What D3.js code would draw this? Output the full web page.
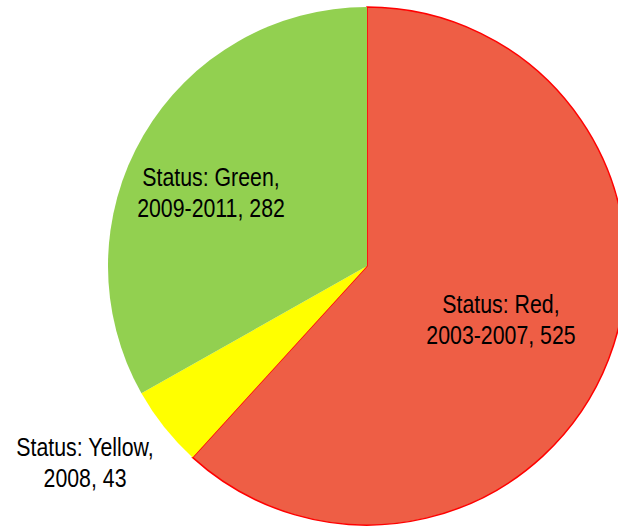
<!DOCTYPE html>
<html>
<head>
<meta charset="utf-8">
<script src="https://cdn.jsdelivr.net/npm/d3@7"></script>
<style>
  html, body { margin: 0; padding: 0; background: #fff; }
  svg text { font-family: "Liberation Sans Narrow", "Arial Narrow", "Liberation Sans", Arial, sans-serif; font-size: 26px; fill: #000; }
</style>
</head>
<body>
<svg id="chart" width="618" height="527"></svg>
<script>
// Project status counts by period
const statuses = ["Red", "Yellow", "Green"];
const periods = ["2003-2007", "2008", "2009-2011"];
const counts = [525, 43, 282];
const colors = ["#EE5E45", "#FFFF00", "#92D050"];
const strokes = ["#FF0000", "none", "none"];

const svg = d3.select("#chart");
const cx = 367, cy = 266, r = 259;

const data = statuses.map((s, i) => ({ status: s, period: periods[i], value: counts[i], i }));

const pie = d3.pie().sort(null).value(d => d.value);
const arc = d3.arc().innerRadius(0).outerRadius(r);
const arcs = pie(data);

const g = svg.append("g").attr("transform", `translate(${cx},${cy})`);

g.selectAll("path")
  .data(arcs)
  .join("path")
  .attr("d", arc)
  .attr("fill", d => colors[d.data.i])
  .attr("stroke", d => strokes[d.data.i])
  .attr("stroke-width", 1.5);

// Labels: inside slices for the large ones, outside for the small one.
// Text is horizontally condensed to get a narrow face.
const labelPos = [
  [501, 313],
  [85, 456],
  [211, 186]
];

arcs.forEach(a => {
  const [x, y] = labelPos[a.data.i];
  const t = svg.append("text")
    .attr("text-anchor", "middle")
    .attr("transform", `translate(${x},${y}) scale(0.82,1)`);
  t.append("tspan").attr("x", 0).attr("dy", 0).text(`Status: ${a.data.status},`);
  t.append("tspan").attr("x", 0).attr("dy", 31).text(`${a.data.period}, ${a.data.value}`);
});
</script>
</body>
</html>
